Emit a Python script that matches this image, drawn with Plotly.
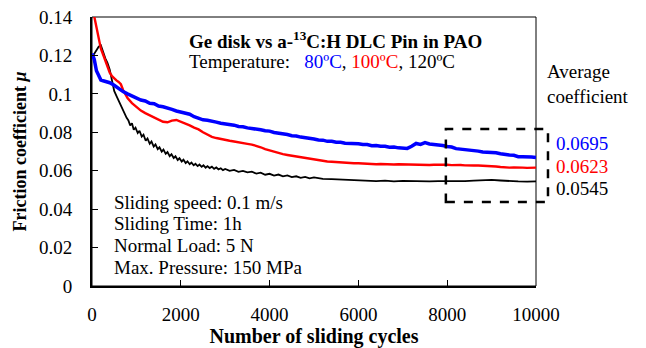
import plotly.graph_objects as go

# ---------------- data ----------------
x_blue = [0, 50, 100, 150, 200, 250, 300, 400, 500, 600, 700, 800, 900, 1000,
          1100, 1200, 1300, 1400, 1500, 1600, 1700, 1800, 1900, 2000,
          2100, 2200, 2300, 2400, 2500, 2600, 2700, 2800, 2900, 3000,
          3100, 3200, 3300, 3400, 3500, 3600, 3700, 3800, 3900, 4000,
          4100, 4200, 4300, 4400, 4500, 4600, 4700, 4800, 4900, 5000,
          5100, 5200, 5300, 5400, 5500, 5600, 5700, 5800, 5900, 6000,
          6100, 6200, 6300, 6400, 6500, 6600, 6700, 6800, 6900, 7000,
          7100, 7200, 7300, 7400, 7500, 7600, 7700, 7800, 7900, 8000,
          8100, 8200, 8300, 8400, 8500, 8600, 8700, 8800, 8900, 9000,
          9100, 9200, 9300, 9400, 9500, 9600, 9700, 9800, 9900, 10000]
y_blue = [0.1210, 0.1180, 0.1120, 0.1090, 0.1072, 0.1068, 0.1065, 0.1058, 0.1045, 0.1028, 0.1012, 0.1000, 0.0988, 0.0980,
          0.0968, 0.0963, 0.0951, 0.0949, 0.0937, 0.0933, 0.0924, 0.0919, 0.0911, 0.0906,
          0.0897, 0.0894, 0.0881, 0.0873, 0.0865, 0.0863, 0.0856, 0.0853, 0.0847, 0.0844,
          0.0839, 0.0837, 0.0830, 0.0829, 0.0823, 0.0821, 0.0816, 0.0813, 0.0808, 0.0806,
          0.0799, 0.0796, 0.0789, 0.0788, 0.0782, 0.0781, 0.0775, 0.0773, 0.0767, 0.0765,
          0.0760, 0.0759, 0.0753, 0.0753, 0.0748, 0.0748, 0.0743, 0.0743, 0.0739, 0.0740,
          0.0736, 0.0736, 0.0730, 0.0731, 0.0727, 0.0727, 0.0722, 0.0723, 0.0719, 0.0719,
          0.0716, 0.0727, 0.0742, 0.0737, 0.0746, 0.0739, 0.0737, 0.0732, 0.0731, 0.0726,
          0.0723, 0.0715, 0.0713, 0.0708, 0.0707, 0.0703, 0.0702, 0.0697, 0.0697, 0.0693,
          0.0693, 0.0688, 0.0687, 0.0682, 0.0680, 0.0673, 0.0673, 0.0670, 0.0671, 0.0669]

x_red = [0, 50, 100, 150, 200, 250, 300, 350, 400, 450, 500, 550, 600, 650, 700, 750, 800, 900, 1000,
         1100, 1200, 1300, 1400, 1500, 1600, 1700, 1800, 1900, 2000,
         2100, 2200, 2300, 2400, 2500, 2600, 2700, 2800, 2900, 3000,
         3100, 3200, 3300, 3400, 3500, 3600, 3700, 3800, 3900, 4000,
         4100, 4200, 4300, 4400, 4500, 4600, 4700, 4800, 4900, 5000,
         5100, 5200, 5300, 5400, 5500, 5600, 5700, 5800, 5900, 6000,
         6100, 6200, 6300, 6400, 6500, 6600, 6700, 6800, 6900, 7000,
         7100, 7200, 7300, 7400, 7500, 7600, 7700, 7800, 7900, 8000,
         8100, 8200, 8300, 8400, 8500, 8600, 8700, 8800, 8900, 9000,
         9100, 9200, 9300, 9400, 9500, 9600, 9700, 9800, 9900, 10000]
y_red = [0.1460, 0.1400, 0.1340, 0.1280, 0.1235, 0.1205, 0.1170, 0.1135, 0.1110, 0.1092, 0.1080, 0.1070, 0.1062, 0.1050, 0.1020, 0.0995, 0.0978, 0.0952, 0.0930,
         0.0913, 0.0900, 0.0888, 0.0878, 0.0866, 0.0855, 0.0852, 0.0861, 0.0864, 0.0856,
         0.0847, 0.0836, 0.0824, 0.0815, 0.0800, 0.0788, 0.0776, 0.0770, 0.0764, 0.0760,
         0.0756, 0.0752, 0.0747, 0.0744, 0.0740, 0.0736, 0.0730, 0.0722, 0.0712, 0.0705,
         0.0698, 0.0692, 0.0686, 0.0682, 0.0678, 0.0675, 0.0672, 0.0667, 0.0662, 0.0657,
         0.0653, 0.0650, 0.0648, 0.0647, 0.0645, 0.0643, 0.0642, 0.0640, 0.0639, 0.0639,
         0.0637, 0.0635, 0.0636, 0.0634, 0.0635, 0.0633, 0.0634, 0.0632, 0.0634, 0.0633,
         0.0635, 0.0632, 0.0633, 0.0631, 0.0632, 0.0630, 0.0631, 0.0632, 0.0630, 0.0631,
         0.0629, 0.0630, 0.0630, 0.0628, 0.0629, 0.0627, 0.0627, 0.0626, 0.0625, 0.0625,
         0.0622, 0.0619, 0.0617, 0.0616, 0.0617, 0.0615, 0.0616, 0.0615, 0.0616, 0.0616]

x_black = [0, 50, 100, 150, 200, 250, 300, 350, 400, 450, 500, 550, 600, 650, 700, 740, 780, 820, 860,
           900, 940, 980, 1030, 1070, 1120, 1160, 1210, 1250, 1300, 1340, 1390, 1430, 1480, 1520,
           1570, 1610, 1660, 1700, 1750, 1790, 1840, 1880, 1930, 1970, 2020, 2060, 2110, 2150,
           2200, 2240, 2290, 2330, 2380, 2420, 2470, 2510, 2560, 2600, 2650, 2700, 2750, 2800,
           2850, 2900, 2950, 3000, 3100, 3200, 3300, 3400, 3500, 3600, 3700, 3800, 3900, 4000,
           4100, 4200, 4300, 4400, 4500, 4600, 4700, 4800, 4900, 5000, 5200, 5400, 5600, 5800,
           6000, 6200, 6400, 6600, 6800, 7000, 7200, 7400, 7600, 7800, 8000, 8200, 8400, 8600,
           8800, 9000, 9200, 9400, 9600, 9800, 10000]
y_black = [0.1190, 0.1210, 0.1225, 0.1245, 0.1252, 0.1215, 0.1185, 0.1160, 0.1125, 0.1070, 0.1015, 0.0990, 0.0965, 0.0935, 0.0912, 0.0898, 0.0875, 0.0862, 0.0836,
           0.0847, 0.0813, 0.0824, 0.0796, 0.0808, 0.0778, 0.0788, 0.0756, 0.0768, 0.0740, 0.0752, 0.0726, 0.0737, 0.0712, 0.0722,
           0.0699, 0.0710, 0.0688, 0.0697, 0.0676, 0.0686, 0.0666, 0.0675, 0.0656, 0.0665, 0.0648, 0.0657, 0.0640, 0.0649,
           0.0634, 0.0642, 0.0628, 0.0636, 0.0624, 0.0632, 0.0620, 0.0628, 0.0616, 0.0624, 0.0614, 0.0621, 0.0610, 0.0617,
           0.0607, 0.0613, 0.0603, 0.0609, 0.0599, 0.0604, 0.0594, 0.0599, 0.0591, 0.0595, 0.0585, 0.0590, 0.0579, 0.0584,
           0.0575, 0.0580, 0.0571, 0.0576, 0.0567, 0.0571, 0.0563, 0.0568, 0.0560, 0.0565, 0.0558, 0.0556, 0.0554, 0.0551,
           0.0548, 0.0549, 0.0546, 0.0548, 0.0545, 0.0547, 0.0545, 0.0546, 0.0544, 0.0546, 0.0545, 0.0544, 0.0546, 0.0548,
           0.0550, 0.0552, 0.0549, 0.0545, 0.0544, 0.0543, 0.0544]

y_tickvals = [0, 0.02, 0.04, 0.06, 0.08, 0.10, 0.12, 0.14]
y_ticktext = ["0", "0.02", "0.04", "0.06", "0.08", "0.1", "0.12", "0.14"]
x_tickvals = [0, 2000, 4000, 6000, 8000, 10000]
x_ticktext = ["0", "2000", "4000", "6000", "8000", "10000"]

avg_labels = ["0.0695", "0.0623", "0.0545"]
avg_colors = ["#0000FF", "#FF0000", "#000000"]
conditions = ["Sliding speed: 0.1 m/s", "Sliding Time: 1h", "Normal Load: 5 N", "Max. Pressure: 150 MPa"]

FONT = "Liberation Serif, Times New Roman, serif"

fig = go.Figure()
fig.add_trace(go.Scatter(x=x_black, y=y_black, mode="lines", line=dict(color="#000000", width=1.8), showlegend=False))
fig.add_trace(go.Scatter(x=x_red, y=y_red, mode="lines", line=dict(color="#FF0000", width=2.4), showlegend=False))
fig.add_trace(go.Scatter(x=x_blue, y=y_blue, mode="lines", line=dict(color="#0000FF", width=3.5), showlegend=False))

fig.update_layout(
    width=646, height=348,
    margin=dict(l=92, r=110, t=17, b=62),
    paper_bgcolor="white", plot_bgcolor="white",
    font=dict(family=FONT, size=19, color="black"),
    showlegend=False,
)
fig.update_xaxes(
    range=[0, 10000], tickvals=x_tickvals, ticktext=x_ticktext, ticks="inside", ticklen=6, tickwidth=1, tickcolor="black",
    showline=True, linecolor="black", linewidth=2, showgrid=False, zeroline=False, automargin=False,
    tickfont=dict(family=FONT, size=19, color="black"), ticklabelstandoff=10,
    title=dict(text="<b>Number of sliding cycles</b>", font=dict(family=FONT, size=20, color="black"), standoff=8),
)
fig.update_yaxes(
    range=[0, 0.14], tickvals=y_tickvals, ticktext=y_ticktext, ticks="inside", ticklen=6, tickwidth=1, tickcolor="black",
    showline=True, linecolor="black", linewidth=2, showgrid=False, zeroline=False, automargin=False,
    tickfont=dict(family=FONT, size=19, color="black"), ticklabelstandoff=14,
    title=dict(text="<b>Friction coefficient <i>μ</i></b>", font=dict(family=FONT, size=18, color="black"), standoff=8),
)

# thin frame (top/right)
fig.add_shape(type="rect", xref="paper", yref="paper", x0=0, x1=1, y0=0, y1=1,
              line=dict(color="black", width=1), layer="below")
# dashed box around averaging window
fig.add_shape(type="rect", xref="paper", yref="paper", x0=0.797, x1=1.027, y0=0.312, y1=0.584,
              line=dict(color="black", width=2.5, dash="dash"))

fig.add_annotation(xref="paper", yref="paper", x=0.215, y=0.915, xanchor="left", yanchor="middle",
                   text="<b>Ge disk vs a-<sup>13</sup>C:H DLC Pin in PAO</b>", showarrow=False,
                   font=dict(family=FONT, size=19))
fig.add_annotation(xref="paper", yref="paper", x=0.215, y=0.833, xanchor="left", yanchor="middle",
                   text="Temperature:   <span style='color:#0000FF'>80ºC</span>, <span style='color:#FF0000'>100ºC</span>, 120ºC",
                   showarrow=False, font=dict(family=FONT, size=19))
fig.add_annotation(xref="paper", yref="paper", x=1.02, y=0.752, xanchor="left", yanchor="middle",
                   text="Average<br>coefficient", align="left", showarrow=False,
                   font=dict(family=FONT, size=19))
for i, (t, c) in enumerate(zip(avg_labels, avg_colors)):
    fig.add_annotation(xref="paper", yref="paper", x=1.04, y=0.528 - i * 0.083, xanchor="left", yanchor="middle",
                       text=t, showarrow=False, font=dict(family=FONT, size=19, color=c))
for i, t in enumerate(conditions):
    fig.add_annotation(xref="paper", yref="paper", x=0.045, y=0.312 - i * 0.081, xanchor="left", yanchor="middle",
                       text=t, showarrow=False, font=dict(family=FONT, size=19))

fig.write_html("out.html")
